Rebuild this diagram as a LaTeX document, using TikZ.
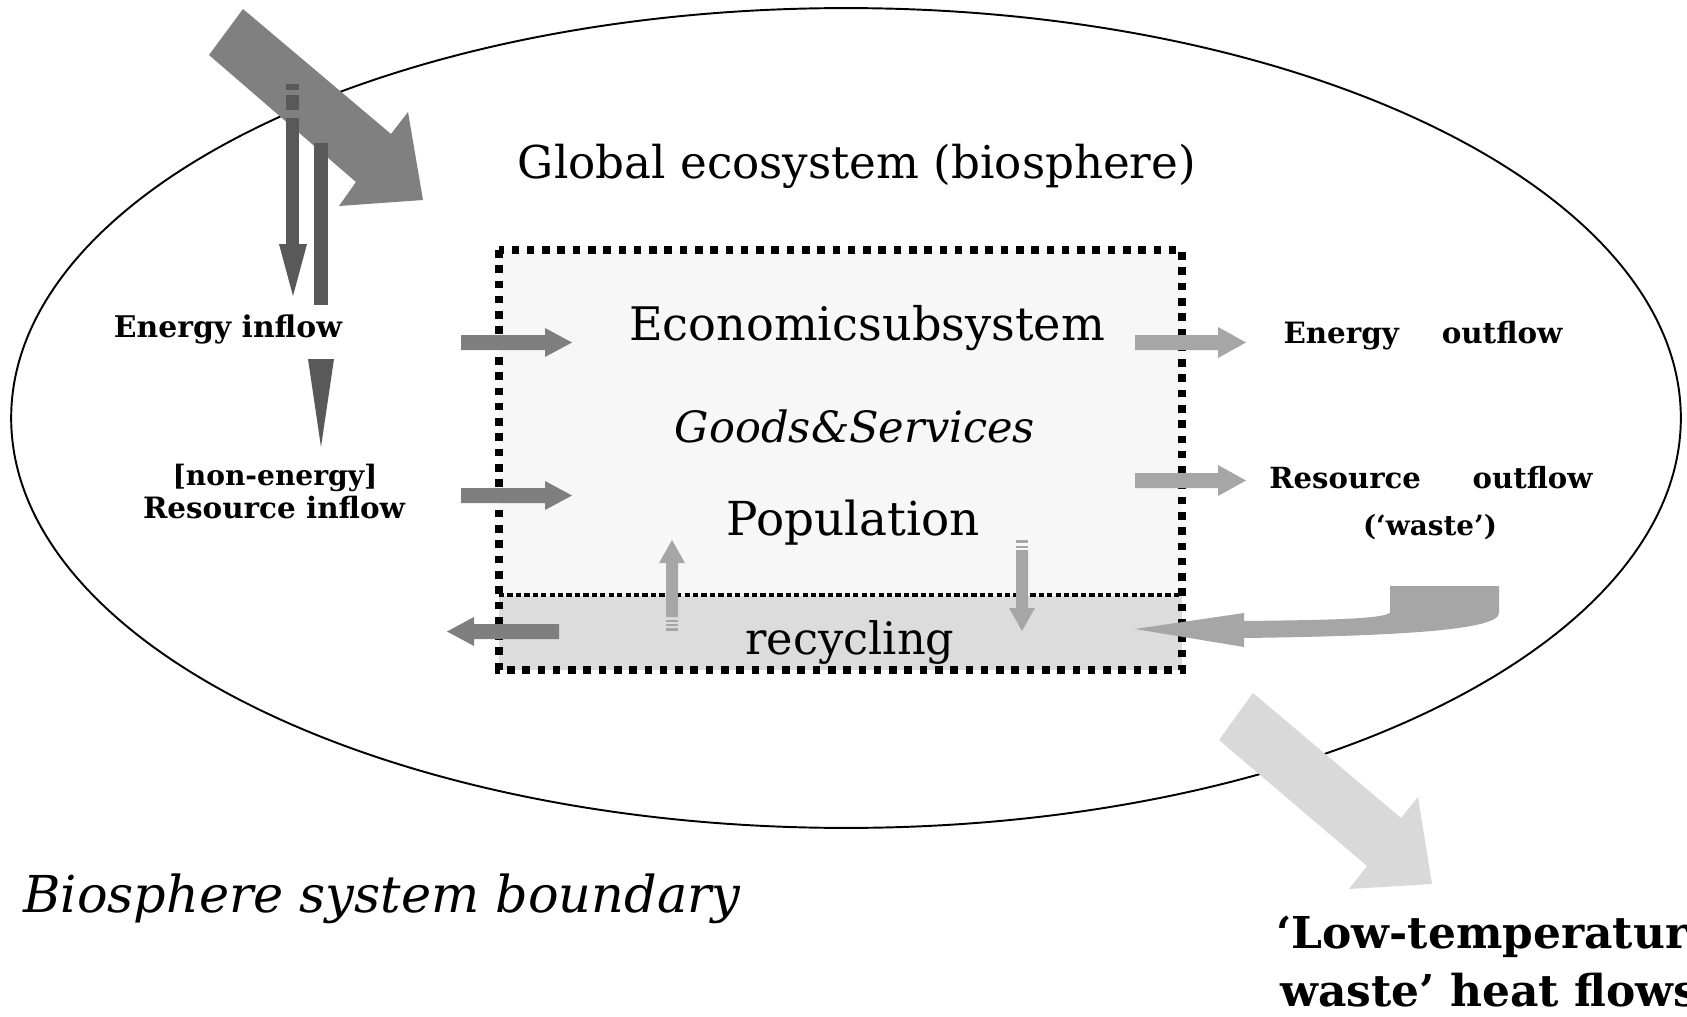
\documentclass[tikz,border=0pt]{standalone}
\usepackage{fontspec}
\setmainfont{DejaVu Serif}
\newlength\pxu
\setlength\pxu{0.02cm}
\newcommand{\fitw}[2]{\resizebox{#1\pxu}{!}{#2}}
\definecolor{arrA}{HTML}{808080}
\definecolor{arrB}{HTML}{595959}
\definecolor{arrC}{HTML}{7F7F7F}
\definecolor{arrD}{HTML}{A6A6A6}
\definecolor{arrE}{HTML}{D9D9D9}
\definecolor{boxA}{HTML}{F7F7F7}
\definecolor{boxB}{HTML}{DCDCDC}
\begin{document}
\begin{tikzpicture}[x=0.02cm,y=-0.02cm,
  lbl/.style={inner sep=0pt,anchor=base},
  lblw/.style={inner sep=0pt,anchor=base west},
  dotbox/.style={line width=4.2pt,dash pattern=on 4.3pt off 4.4pt},
  dotthin/.style={line width=2.4pt,dash pattern=on 3pt off 1.8pt}]
\useasboundingbox (0,0) rectangle (1687,1017);
\clip (0,0) rectangle (1687,1017);
\fill[white] (0,0) rectangle (1687,1017);
% biosphere boundary
\draw[line width=1.1pt] (846,418) ellipse [x radius=16.7cm, y radius=8.2cm];
% incoming big arrow (top left)
\fill[arrA] (243,9) -- (391,134) -- (408,112) -- (423,200) -- (339,206) -- (356,182) -- (209,55) -- cycle;
% thin vertical arrows
\fill[arrB] (286,84) rectangle (299,90);
\fill[arrB] (286,95) rectangle (299,110);
\fill[arrB] (286,118) rectangle (299,244);
\fill[arrB] (279,244) -- (307,244) -- (293,296) -- cycle;
\fill[arrB] (314,143) rectangle (328,305);
\fill[arrB] (308,359) -- (334,359) -- (321,447) -- cycle;
% economic subsystem box
\fill[boxA] (499,250) rectangle (1182,670);
\fill[boxB] (499,596) rectangle (1182,670);
\draw[dotthin] (499,595) -- (1182,595);
\draw[dotbox] (499,250) rectangle (1182,670);
% inflow arrows
\fill[arrC] (461,335) -- (545,335) -- (545,328) -- (572,342.5) -- (545,357) -- (545,350) -- (461,350) -- cycle;
\fill[arrC] (461,488) -- (545,488) -- (545,481) -- (572,495.5) -- (545,510) -- (545,503) -- (461,503) -- cycle;
% outflow arrows
\fill[arrD] (1135,335) -- (1218,335) -- (1218,327) -- (1246,342.5) -- (1218,358) -- (1218,350) -- (1135,350) -- cycle;
\fill[arrD] (1135,473) -- (1218,473) -- (1218,465) -- (1246,480.5) -- (1218,496) -- (1218,488) -- (1135,488) -- cycle;
% recycling arrows
\fill[arrD] (672,540) -- (685,563) -- (678,563) -- (678,617) -- (666,617) -- (666,563) -- (659,563) -- cycle;
\fill[arrD] (666,620) rectangle (678,622);
\fill[arrD] (666,624) rectangle (678,626);
\fill[arrD] (666,628) rectangle (678,631);
\fill[arrD] (1016,540) rectangle (1028,543);
\fill[arrD] (1016,545.5) rectangle (1028,548);
\fill[arrD] (1016,550) -- (1028,550) -- (1028,608) -- (1035,608) -- (1022,631) -- (1009,608) -- (1016,608) -- cycle;
\fill[arrC] (559,624) -- (474,624) -- (474,617) -- (447,631.5) -- (474,646) -- (474,639) -- (559,639) -- cycle;
% returning waste arrow
\fill[arrD] (1135,629) -- (1244,613) -- (1244,621) .. controls (1330,620) and (1380,619) .. (1390,613) -- (1390,586) -- (1499,586) -- (1499,613) .. controls (1499,630) and (1400,636) .. (1244,638) -- (1244,647) -- cycle;
% outgoing heat arrow
\fill[arrE] (1253,693) -- (1401,818) -- (1418,797) -- (1432,884) -- (1349,889) -- (1367,866) -- (1219,740) -- cycle;
% labels
\node[lbl] (glob) at (857,178) {\fitw{678}{Global ecosystem (biosphere)}};
\node[lbl] (econ) at (867,340) {\fitw{476}{Economicsubsystem}};
\node[lbl] (goods) at (855,442) {\fitw{360}{\itshape Goods\&Services}};
\node[lbl] (pop) at (853,535) {\fitw{253}{Population}};
\node[lbl] (recyc) at (850,654) {\fitw{209}{recycling}};
\node[lbl] (ein) at (228,337) {\fitw{228}{\bfseries Energy inflow}};
\node[lbl] (nonen) at (275,485) {\fitw{205}{\bfseries [non-energy]}};
\node[lbl] (rin) at (274,518) {\fitw{262}{\bfseries Resource inflow}};
\node[lbl] (eout) at (1423,343) {\fitw{279}{\bfseries Energy\hspace{1.46em}outflow}};
\node[lbl] (rout) at (1431,488) {\fitw{323}{\bfseries Resource\hspace{1.78em}outflow}};
\node[lbl] (waste) at (1430,535) {\fitw{134}{\bfseries (‘waste’)}};
\node[lbl] (bound) at (382,912) {\fitw{717}{\itshape Biosphere system boundary}};
\node[lblw] (low1) at (1276,948) {\fontsize{25}{30}\selectfont\bfseries ‘Low-temperature};
\node[lblw] (low2) at (1280,1006) {\fontsize{25}{30}\selectfont\bfseries waste’ heat flows};
\end{tikzpicture}
\end{document}
